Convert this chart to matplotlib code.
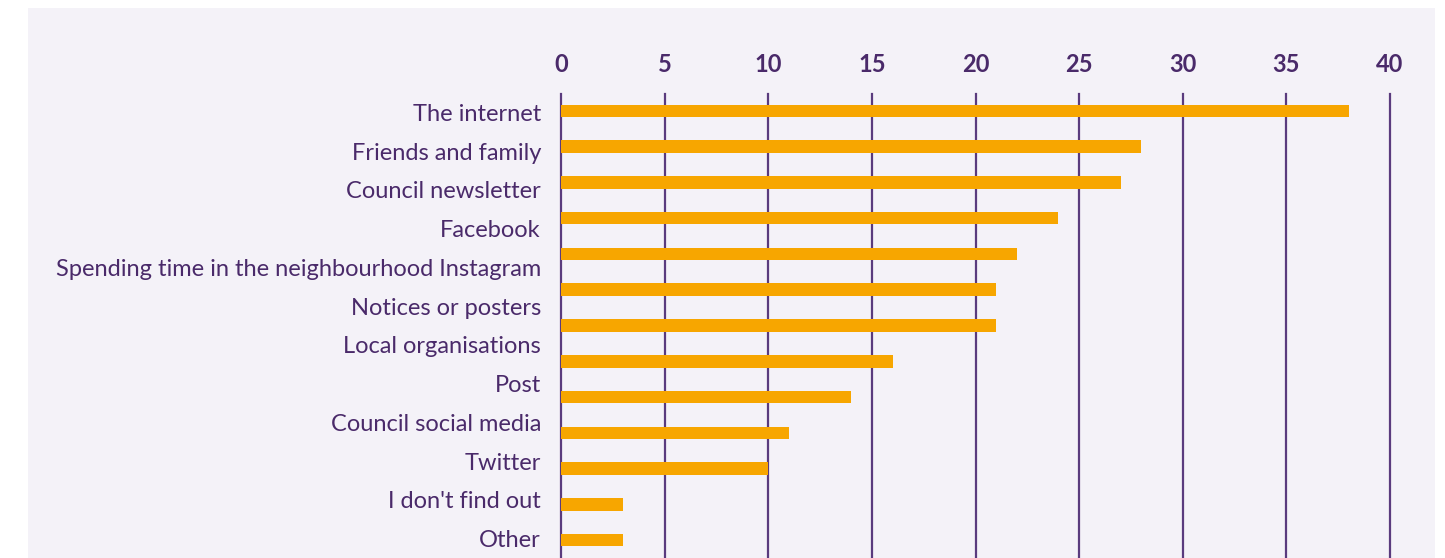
import numpy as np
import matplotlib
matplotlib.use("Agg")
import matplotlib.pyplot as plt
from matplotlib.patches import Rectangle

# data
values = [38, 28, 27, 24, 22, 21, 21, 16, 14, 11, 10, 3, 3]
labels = ["The internet", "Friends and family", "Council newsletter", "Facebook",
          "Spending time in the neighbourhood Instagram", "Notices or posters",
          "Local organisations", "Post", "Council social media", "Twitter",
          "I don't find out", "Other"]
xticks = [0, 5, 10, 15, 20, 25, 30, 35, 40]

PURPLE = "#4a2a6a"
GRID = "#5a3b7e"
ORANGE = "#f7a600"
PANEL = "#f4f2f8"

plt.rcParams['font.family'] = ['Lato', 'DejaVu Sans']

W, H = 1445, 558
fig = plt.figure(figsize=(W / 100, H / 100), dpi=100, facecolor="white")

# light panel behind the chart
fig.patches.append(Rectangle((28 / W, 0), (1435 - 28) / W, 1 - 8 / H,
                             transform=fig.transFigure, facecolor=PANEL,
                             edgecolor="none", zorder=-10))

ax = fig.add_axes([561 / W, 0.0, (1390 - 561) / W, 1 - 93 / H])
ax.set_facecolor("none")

ypos = np.arange(len(values))
ax.barh(ypos, values, height=0.35, color=ORANGE, zorder=3)
ax.set_xlim(0, 40)
ax.set_ylim(len(values) - 0.5, -0.5)

# vertical grid lines starting a little below the top of the axes
for x in xticks:
    ax.axvline(x, ymin=0, ymax=0.998, color=GRID, lw=1.6, zorder=2, clip_on=False)

ax.set_xticks(xticks)
ax.xaxis.tick_top()
ax.tick_params(axis="x", length=0, pad=12, labelsize=17, labelcolor=PURPLE)
for t in ax.get_xticklabels():
    t.set_fontweight("bold")
ax.set_yticks([])
for s in ax.spines.values():
    s.set_visible(False)

# category labels sit on their own evenly spaced scale
lab = ax.twinx()
lab.set_ylim(len(labels) - 0.5, -0.5)
lab.yaxis.tick_left()
lab.set_yticks(np.arange(len(labels)))
lab.set_yticklabels(labels)
lab.tick_params(axis="y", length=0, pad=14.4, labelsize=17, labelcolor=PURPLE)
for s in lab.spines.values():
    s.set_visible(False)

fig.savefig("out.png", dpi=100, facecolor="white")
